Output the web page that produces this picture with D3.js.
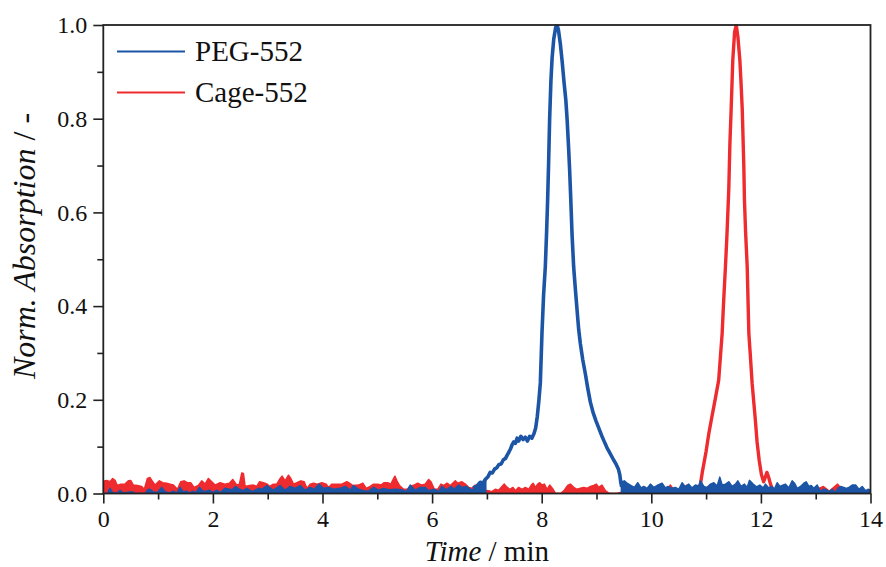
<!DOCTYPE html>
<html><head><meta charset="utf-8">
<script src="https://cdn.jsdelivr.net/npm/d3@7"></script>
<style>body{margin:0;background:#fff}svg{display:block}</style>
</head><body><svg id="c" width="886" height="567"></svg>
<script>
// ---------- data ----------
const seriesNames = ["PEG-552", "Cage-552"];
const xMajorTicks = [0, 2, 4, 6, 8, 10, 12, 14];
const xMinorTicks = [1, 3, 5, 7, 9, 11, 13];
const yMajorTicks = [0, 0.2, 0.4, 0.6, 0.8, 1.0];
const yMinorTicks = [0.1, 0.3, 0.5, 0.7, 0.9];

// Cage-552 baseline noise envelope (null = peak region)
const cageBaseT = [0.00,0.062,0.122,0.171,0.214,0.256,0.317,0.396,0.457,0.50,0.548,0.621,0.70,0.749,0.804,0.853,0.902,0.944,1.023,1.084,1.157,1.218,1.279,1.352,1.413,1.474,1.535,1.595,1.656,1.735,1.796,1.857,1.918,1.979,2.04,2.131,2.222,2.301,
2.362,2.436,2.484,2.527,2.557,2.588,2.667,2.740,2.801,2.850,2.922,2.995,3.032,3.105,3.166,3.227,3.263,3.318,3.379,3.422,3.470,3.531,3.605,3.666,3.714,3.775,3.836,3.909,3.988,4.068,4.11,4.17,4.26,4.353,4.444,4.493,4.554,4.658,
4.736,4.797,4.870,4.932,5.005,5.066,5.126,5.188,5.248,5.297,5.321,5.358,5.406,5.480,5.552,5.600,5.674,5.735,5.814,5.874,5.937,5.980,6.040,6.101,6.162,6.211,6.272,6.333,6.424,6.467,6.545,6.606,6.667,6.728,6.788,6.849,6.94,7.03,
7.09,7.153,7.214,7.275,7.318,7.354,7.415,7.476,7.519,7.580,7.641,7.702,7.763,7.805,7.842,7.885,7.927,7.964,8.006,8.049,8.098,8.146,8.207,8.25,8.34,8.413,8.474,8.523,8.584,8.645,8.706,8.767,8.828,8.888,8.949,8.998,9.04,9.10,9.162,9.223,9.31,9.40,
9.5,9.7,9.9,10.1,10.3,10.35,10.42,10.55,10.65,10.72,10.85,10.86,
12.22,12.3,12.42,12.5,12.7,12.97,13.14,13.25,13.40,13.5,13.7,13.9,14.0];
const cageBaseV = [0.026,0.028,0.025,0.032,0.028,0.017,0.020,0.020,0.027,0.028,0.018,0.017,0.015,0.009,0.032,0.034,0.025,0.018,0.027,0.023,0.022,0.020,0.018,0.009,0.025,0.027,0.023,0.023,0.013,0.017,0.027,0.020,0.032,0.025,0.018,0.023,0.020,0.022,
0.030,0.018,0.020,0.044,0.043,0.015,0.017,0.018,0.015,0.025,0.023,0.020,0.015,0.020,0.020,0.032,0.037,0.027,0.039,0.032,0.020,0.023,0.027,0.025,0.011,0.020,0.022,0.020,0.023,0.020,0.013,0.020,0.020,0.020,0.025,0.022,0.017,0.018,
0.022,0.011,0.015,0.020,0.020,0.018,0.023,0.023,0.020,0.032,0.037,0.027,0.017,0.009,0.009,0.015,0.018,0.022,0.018,0.020,0.030,0.025,0.009,0.009,0.020,0.017,0.022,0.017,0.027,0.022,0.025,0.020,0.013,0.011,0.018,0.011,0.007,0.006,
0.004,0.009,0.007,0.015,0.020,0.015,0.009,0.013,0.006,0.013,0.009,0.013,0.009,0.017,0.022,0.013,0.020,0.023,0.018,0.020,0.009,0.018,0.009,0.001,0.000,0.007,0.017,0.020,0.013,0.009,0.011,0.013,0.011,0.015,0.017,0.020,0.013,0.018,0.006,0.001,0.000,0.001,
0.004,0.008,0.006,0.009,0.010,0.018,0.006,0.008,0.018,0.008,0.005,null,
0.008,0.006,0.018,0.006,0.008,0.006,0.015,0.005,0.020,0.006,0.008,0.006,0.005];

// Cage-552 elution peak
const cagePeakT = [10.86,10.90,10.93,10.96,11.00,11.05,11.10,11.14,11.18,11.23,11.26,11.293,11.32,11.353,11.38,11.414,11.435,11.457,11.487,11.52,11.55,11.58,11.616,11.64,11.66,11.688,11.70,11.72,11.75,11.78,11.81,11.84,11.87,11.90,11.93,11.97,12.01,12.05,12.08,12.11,12.14,12.18,12.22];
const cagePeakV = [0.004,0.022,0.045,0.064,0.090,0.128,0.160,0.185,0.210,0.242,0.290,0.342,0.410,0.484,0.550,0.650,0.750,0.819,0.925,0.985,1.000,0.975,0.925,0.870,0.819,0.700,0.626,0.560,0.484,0.342,0.290,0.235,0.195,0.155,0.110,0.070,0.040,0.025,0.035,0.045,0.035,0.018,0.008];

// PEG-552 baseline noise envelope (null = peak region)
const pegBaseT = [0.0,0.074,0.122,0.171,0.244,0.305,0.366,0.518,0.579,0.761,0.822,0.865,0.914,0.987,1.066,1.127,1.206,1.279,1.340,1.401,1.462,1.523,1.571,1.632,1.687,1.754,1.827,1.936,1.997,2.07,2.131,2.222,2.301,
2.344,2.417,2.484,2.557,2.618,2.722,2.832,2.893,2.984,3.105,3.227,3.318,3.410,3.501,3.593,3.684,3.775,3.849,3.934,4.019,4.110,4.201,4.323,4.414,4.505,4.566,4.658,
4.749,4.840,4.932,5.023,5.114,5.205,5.327,5.449,5.528,5.601,5.692,5.783,5.874,5.935,6.040,6.119,6.18,6.259,6.345,6.405,6.484,6.545,6.624,6.728,6.788,6.849,6.93,6.98,
9.45,
9.454,9.509,9.558,9.631,9.691,9.752,9.813,9.862,9.923,9.983,10.044,10.105,10.196,10.257,10.306,10.379,10.440,10.501,10.562,10.623,10.683,10.744,10.805,10.866,10.897,10.958,11.019,11.080,11.141,11.202,11.250,11.293,11.354,11.414,11.475,11.536,11.578,11.639,11.700,11.749,11.791,
11.858,11.919,11.980,12.041,12.084,12.145,12.188,12.249,12.297,12.346,12.388,12.449,12.510,12.571,12.613,12.662,12.723,12.784,12.827,12.875,12.918,12.966,13.027,13.088,13.137,13.179,13.240,13.301,13.362,13.405,13.453,13.514,13.557,13.606,13.667,13.728,13.789,13.849,13.910,13.953,14.0];
const pegBaseV = [0.000,0.000,0.011,0.002,0.000,0.007,0.001,0.004,0.000,0.000,0.009,0.008,0.003,0.002,0.013,0.004,0.001,0.005,0.001,0.013,0.003,0.005,0.001,0.005,0.002,0.013,0.004,0.007,0.002,0.007,0.002,0.011,0.009,
0.008,0.015,0.009,0.006,0.011,0.004,0.011,0.009,0.017,0.007,0.017,0.007,0.015,0.011,0.017,0.007,0.013,0.009,0.020,0.011,0.013,0.009,0.011,0.015,0.007,0.017,0.009,
0.006,0.005,0.013,0.007,0.011,0.008,0.009,0.008,0.004,0.018,0.007,0.013,0.013,0.006,0.009,0.004,0.015,0.008,0.015,0.009,0.018,0.013,0.015,0.007,0.013,0.018,0.024,0.030,
null,
0.025,0.027,0.022,0.017,0.013,0.023,0.012,0.015,0.011,0.020,0.013,0.017,0.022,0.012,0.015,0.011,0.013,0.009,0.023,0.014,0.020,0.012,0.018,0.016,0.027,0.015,0.013,0.020,0.023,0.016,0.035,0.018,0.020,0.025,0.015,0.020,0.027,0.015,0.020,0.013,0.028,
0.020,0.014,0.018,0.012,0.020,0.012,0.015,0.010,0.023,0.015,0.017,0.020,0.012,0.027,0.022,0.011,0.015,0.022,0.025,0.015,0.017,0.011,0.018,0.004,0.009,0.009,0.004,0.009,0.002,0.011,0.015,0.013,0.011,0.013,0.018,0.018,0.009,0.015,0.006,0.009,0.007];

// PEG-552 elution peak
const pegPeakT = [6.75,6.82,6.88,6.93,6.97,7.02,7.06,7.10,7.14,7.18,7.22,7.26,7.30,7.34,7.37,7.40,7.43,7.46,7.49,7.52,7.55,7.58,7.62,7.66,7.70,7.74,7.78,7.82,7.86,7.89,7.92,7.95,7.975,8.005,8.035,8.066,8.09,8.108,8.125,8.145,8.168,8.19,8.22,8.255,8.28,8.305,8.34,8.371,8.41,8.44,8.463,8.49,8.51,8.53,8.555,8.583,8.615,8.645,8.675,8.705,8.75,8.797,8.84,8.888,8.94,8.99,9.04,9.09,9.13,9.19,9.25,9.31,9.36,9.40,9.425,9.445,9.46];
const pegPeakV = [0.012,0.016,0.024,0.022,0.030,0.036,0.045,0.044,0.052,0.055,0.062,0.063,0.072,0.075,0.082,0.088,0.095,0.104,0.110,0.107,0.118,0.112,0.122,0.115,0.120,0.112,0.122,0.118,0.128,0.140,0.165,0.200,0.236,0.342,0.425,0.484,0.560,0.626,0.700,0.800,0.880,0.930,0.970,0.995,1.000,0.990,0.960,0.925,0.875,0.840,0.800,0.740,0.690,0.630,0.550,0.484,0.435,0.392,0.350,0.320,0.285,0.255,0.225,0.195,0.172,0.155,0.140,0.125,0.114,0.098,0.085,0.072,0.062,0.052,0.040,0.022,0.014];

const colors = {"PEG-552": "#1c55a6", "Cage-552": "#ee2b2e"};

// ---------- chart ----------
const FONT = '"Liberation Serif"';
const m = {left: 103.3, right: 870.5, top: 25, bottom: 493.5};
const svg = d3.select("#c").style("font-family", FONT);
const x = d3.scaleLinear().domain([0, 14]).range([m.left, m.right]);
const y = d3.scaleLinear().domain([0, 1]).range([m.bottom, m.top]);

svg.append("defs").append("clipPath").attr("id", "clip")
  .append("rect").attr("x", m.left).attr("y", m.top - 0.5)
  .attr("width", m.right - m.left).attr("height", m.bottom - m.top + 0.5);

const plot = svg.append("g").attr("clip-path", "url(#clip)");

function zipPts(T, V) { return T.map((t, i) => ({t, v: V[i]})); }
const area = d3.area().defined(d => d.v !== null)
  .x(d => x(d.t)).y0(y(0)).y1(d => y(d.v));
const line = d3.line().x(d => x(d.t)).y(d => y(d.v));

// Cage first, PEG on top
plot.append("path").datum(zipPts(cageBaseT, cageBaseV)).attr("d", area)
  .attr("fill", colors["Cage-552"]).attr("stroke", colors["Cage-552"]).attr("stroke-width", 1.5).attr("stroke-linejoin", "round");
plot.append("path").datum(zipPts(cagePeakT, cagePeakV)).attr("d", line)
  .attr("fill", "none").attr("stroke", colors["Cage-552"]).attr("stroke-width", 3.4).attr("stroke-linejoin", "round");
plot.append("path").datum(zipPts(pegBaseT, pegBaseV)).attr("d", area)
  .attr("fill", colors["PEG-552"]).attr("stroke", colors["PEG-552"]).attr("stroke-width", 1.5).attr("stroke-linejoin", "round");
plot.append("path").datum(zipPts(pegPeakT, pegPeakV)).attr("d", line)
  .attr("fill", "none").attr("stroke", colors["PEG-552"]).attr("stroke-width", 3.6).attr("stroke-linejoin", "round");

// axes
const axisColor = "#222";
const xMaj = svg.append("g").attr("transform", `translate(0,${m.bottom})`)
  .call(d3.axisBottom(x).tickValues(xMajorTicks).tickSize(10).tickSizeOuter(0).tickPadding(6).tickFormat(d3.format("d")));
const xMin = svg.append("g").attr("transform", `translate(0,${m.bottom})`)
  .call(d3.axisBottom(x).tickValues(xMinorTicks).tickSize(6).tickSizeOuter(0).tickFormat(""));
const yMaj = svg.append("g").attr("transform", `translate(${m.left},0)`)
  .call(d3.axisLeft(y).tickValues(yMajorTicks).tickSize(10).tickSizeOuter(0).tickPadding(6).tickFormat(d3.format(".1f")));
const yMin = svg.append("g").attr("transform", `translate(${m.left},0)`)
  .call(d3.axisLeft(y).tickValues(yMinorTicks).tickSize(6).tickSizeOuter(0).tickFormat(""));
[xMaj, xMin, yMaj, yMin].forEach(g => {
  g.attr("font-family", FONT).attr("font-size", 24);
  g.select(".domain").remove();
  g.selectAll(".tick line").attr("stroke", axisColor).attr("stroke-width", 1.6);
  g.selectAll("text").attr("fill", "#111").style("font-family", FONT).style("font-size", "24px");
});
xMaj.selectAll("text").attr("dy", "0.71em");

// frame
svg.append("rect").attr("x", m.left).attr("y", m.top)
  .attr("width", m.right - m.left).attr("height", m.bottom - m.top)
  .attr("fill", "none").attr("stroke", axisColor).attr("stroke-width", 1.8);

// axis titles
const xt = svg.append("text").attr("x", (m.left + m.right) / 2).attr("y", 561)
  .attr("text-anchor", "middle").attr("fill", "#111").style("font-family", FONT).style("font-size", "29px");
xt.append("tspan").style("font-style", "italic").text("Time");
xt.append("tspan").text(" / min");

const yt = svg.append("text").attr("transform", "translate(35,246) rotate(-90)")
  .attr("text-anchor", "middle").attr("fill", "#111").style("font-family", FONT).style("font-size", "32px");
yt.append("tspan").style("font-style", "italic").text("Norm. Absorption");
yt.append("tspan").text(" / -");

// legend
const lg = svg.append("g");
seriesNames.forEach((s, i) => {
  const yy = 51.5 + i * 41;
  lg.append("line").attr("x1", 117).attr("x2", 185).attr("y1", yy).attr("y2", yy)
    .attr("stroke", colors[s]).attr("stroke-width", 2.2);
  lg.append("text").attr("x", 195).attr("y", yy + 9).attr("fill", "#111")
    .style("font-family", FONT).style("font-size", "29px").text(s);
});
</script></body></html>
